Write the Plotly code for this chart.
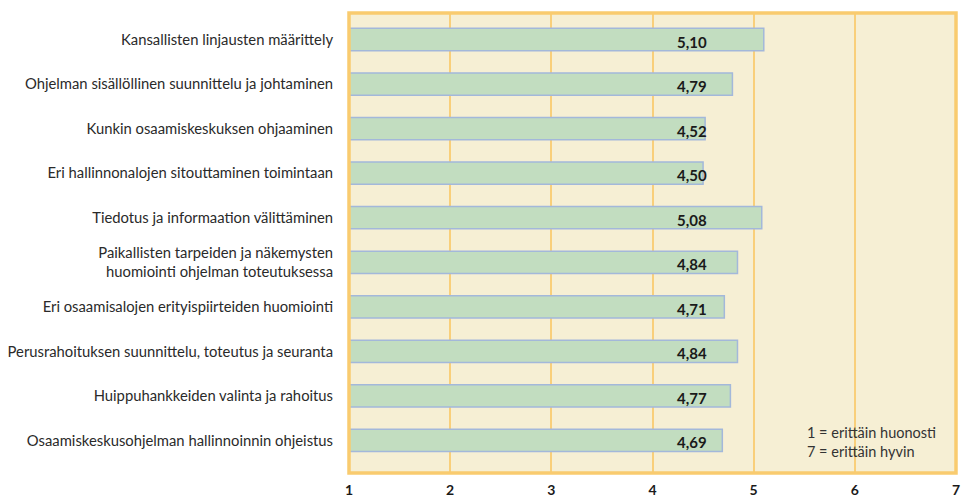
import plotly.graph_objects as go

categories = [
    "Kansallisten linjausten määrittely",
    "Ohjelman sisällöllinen suunnittelu ja johtaminen",
    "Kunkin osaamiskeskuksen ohjaaminen",
    "Eri hallinnonalojen sitouttaminen toimintaan",
    "Tiedotus ja informaation välittäminen",
    "Paikallisten tarpeiden ja näkemysten<br>huomiointi ohjelman toteutuksessa",
    "Eri osaamisalojen erityispiirteiden huomiointi",
    "Perusrahoituksen suunnittelu, toteutus ja seuranta",
    "Huippuhankkeiden valinta ja rahoitus",
    "Osaamiskeskusohjelman hallinnoinnin ohjeistus",
]
values = [5.10, 4.79, 4.52, 4.50, 5.08, 4.84, 4.71, 4.84, 4.77, 4.69]
value_labels = ["5,10", "4,79", "4,52", "4,50", "5,08", "4,84", "4,71", "4,84", "4,77", "4,69"]
tick_vals = [1, 2, 3, 4, 5, 6, 7]
note_lines = ["1 = erittäin huonosti", "7 = erittäin hyvin"]

FONT = "Lato, 'Open Sans', sans-serif"
BASE = 1

fig = go.Figure()
fig.add_trace(go.Bar(
    y=list(range(len(categories))),
    x=[v - BASE for v in values],
    base=BASE,
    orientation="h",
    width=0.5,
    marker=dict(color="#C2DDC0", line=dict(color="#A3B8DA", width=1.5)),
    hoverinfo="skip",
))

for i, lab in enumerate(value_labels):
    fig.add_annotation(x=4.39, y=i, yshift=-2, text="<b>" + lab + "</b>", showarrow=False,
                       xref="x", yref="y", font=dict(family=FONT, size=15, color="#1a1a1a"))

fig.add_annotation(x=0.751, y=0.068, xref="paper", yref="paper", xanchor="left", yanchor="middle",
                   text="<br>".join(note_lines), showarrow=False, align="left",
                   font=dict(family=FONT, size=14.5, color="#333333"))

fig.add_shape(type="rect", xref="paper", yref="paper", x0=0, x1=1, y0=0, y1=1,
              line=dict(color="#F9CB6F", width=3.5), layer="above")

fig.update_layout(
    width=961, height=497,
    margin=dict(l=349, r=5, t=13, b=24),
    paper_bgcolor="white",
    plot_bgcolor="#F6EFD4",
    showlegend=False,
    bargap=0.5,
    xaxis=dict(range=[1, 7], tickvals=tick_vals,
               ticktext=["<b>%d</b>" % t for t in tick_vals],
               showgrid=True, gridcolor="#F9CF7A", gridwidth=2,
               zeroline=False, showline=False, automargin=False,
               ticks="outside", ticklen=4, tickcolor="rgba(0,0,0,0)",
               ticklabeloverflow="allow",
               tickfont=dict(family=FONT, size=14, color="#1a1a1a")),
    yaxis=dict(range=[9.73, -0.595], tickvals=list(range(len(categories))),
               ticktext=categories, showgrid=False, zeroline=False, automargin=False,
               ticks="outside", ticklen=12, tickcolor="rgba(0,0,0,0)",
               tickfont=dict(family=FONT, size=14.8, color="#2a2a2a")),
)

fig.write_html("out.html", config={"displayModeBar": False},
               post_script="document.body.style.margin='0';document.body.style.overflow='hidden';")
